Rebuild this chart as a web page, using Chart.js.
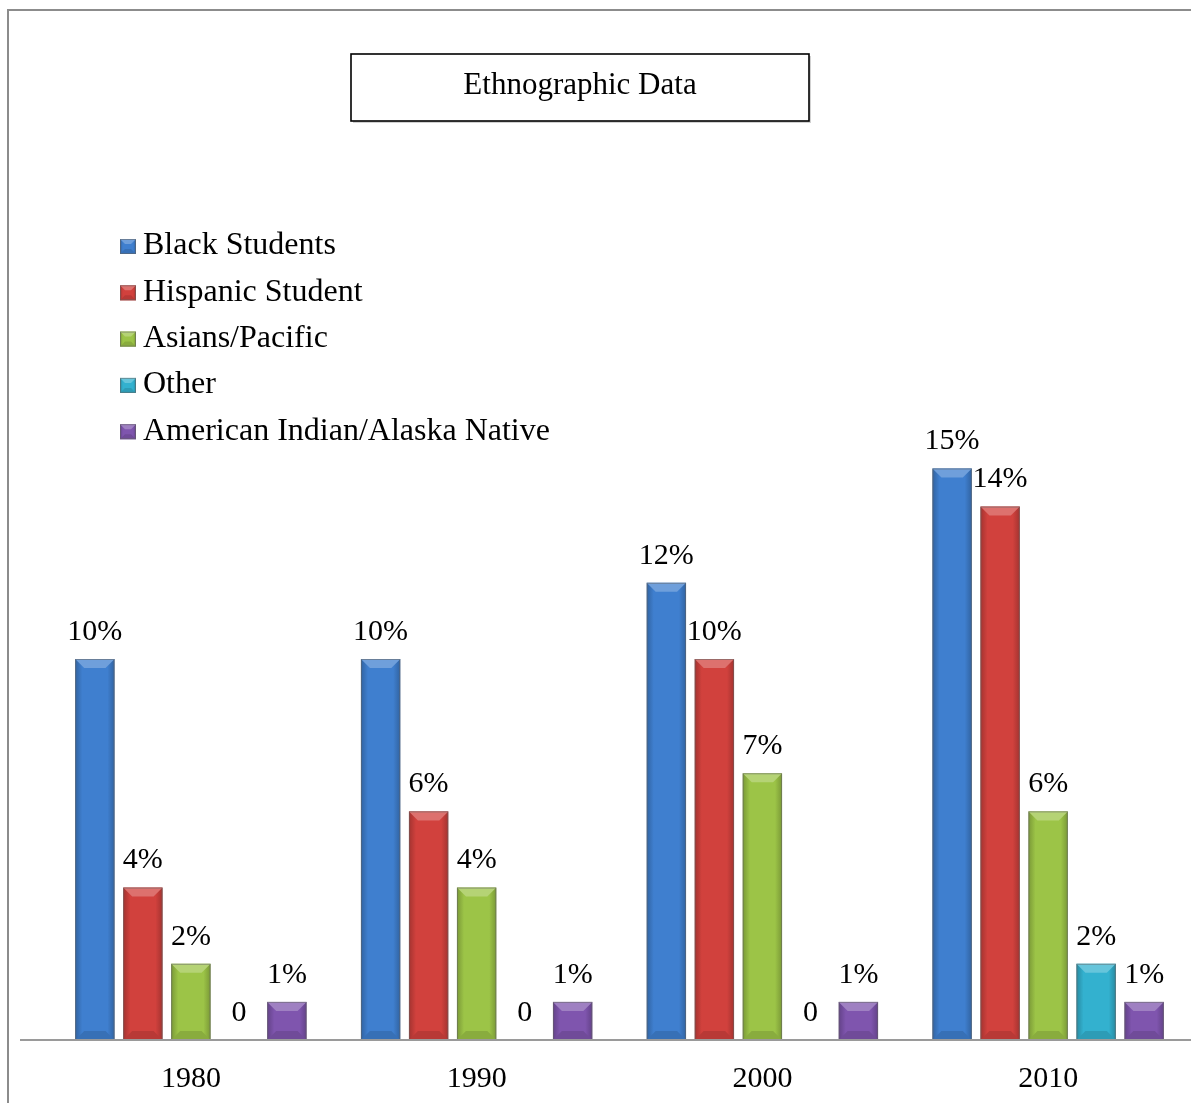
<!DOCTYPE html>
<html>
<head>
<meta charset="utf-8">
<script src="https://cdn.jsdelivr.net/npm/chart.js@4.4.0/dist/chart.umd.min.js"></script>
<style>
  html, body { margin: 0; padding: 0; background: #fff; }
  #myChart { display: block; }
</style>
</head>
<body>
<canvas id="myChart" width="1191" height="1103" style="width:1191px;height:1103px"></canvas>
<script>
// chart data
const years = ['1980', '1990', '2000', '2010'];
const seriesNames = ['Black Students', 'Hispanic Student', 'Asians/Pacific', 'Other', 'American Indian/Alaska Native'];
const blackStudents = [10, 10, 12, 15];
const hispanicStudent = [4, 6, 10, 14];
const asiansPacific = [2, 4, 7, 6];
const otherStudents = [0, 0, 0, 2];
const americanIndian = [1, 1, 1, 1];
const chartTitle = 'Ethnographic Data';

const serif = '"Liberation Serif", "Times New Roman", serif';
const colores = ['#3f7fcf', '#d1413d', '#9cc447', '#33b1cf', '#7f55ae'];
const valores = [blackStudents, hispanicStudent, asiansPacific, otherStudents, americanIndian];

const datasets = seriesNames.map((nombre, i) => ({
    label: nombre,
    data: valores[i],
    backgroundColor: colores[i],
    borderColor: 'rgba(110,110,110,0.7)',
    borderWidth: 1,
    categoryPercentage: 0.84,
    barPercentage: 0.82,
}));

// marco exterior, caja del titulo y leyenda
const decorPlugin = {
    id: 'decor',
    beforeDraw(chart) {
        const ctx = chart.ctx;
        ctx.save();
        ctx.fillStyle = '#fff';
        ctx.fillRect(0, 0, chart.width, chart.height);
        ctx.strokeStyle = '#8c8c8c';
        ctx.lineWidth = 2;
        ctx.beginPath();
        ctx.moveTo(8, chart.height);
        ctx.lineTo(8, 10);
        ctx.lineTo(chart.width, 10);
        ctx.stroke();

        // titulo
        ctx.fillStyle = 'rgba(0,0,0,0.18)';
        ctx.fillRect(353, 56, 458, 67);
        ctx.fillStyle = '#fff';
        ctx.fillRect(351, 54, 458, 67);
        ctx.strokeStyle = '#000';
        ctx.lineWidth = 1.6;
        ctx.strokeRect(351, 54, 458, 67);
        ctx.fillStyle = '#000';
        ctx.font = '31px ' + serif;
        ctx.textAlign = 'center';
        ctx.textBaseline = 'middle';
        ctx.fillText(chartTitle, 580, 86);

        // leyenda
        ctx.font = '32px ' + serif;
        ctx.textAlign = 'left';
        chart.data.datasets.forEach((ds, i) => {
            const cy = 246 + i * 46.3;
            drawBevelBox(ctx, 120, cy - 7, 16, 15, ds.backgroundColor, 5);
            ctx.fillStyle = '#000';
            ctx.fillText(ds.label, 143, cy);
        });
        ctx.restore();
    },
    afterDatasetsDraw(chart) {
        const ctx = chart.ctx;
        const yScale = chart.scales.y;
        const base = yScale.getPixelForValue(0);
        ctx.save();
        // efecto biselado en cada barra
        chart.data.datasets.forEach((ds, i) => {
            chart.getDatasetMeta(i).data.forEach((el) => {
                const p = el.getProps(['x', 'y', 'base', 'width'], true);
                const h = p.base - p.y;
                if (h <= 0.5) return;
                drawBevelBox(ctx, p.x - p.width / 2, p.y, p.width, h, ds.backgroundColor, 9);
            });
        });
        // linea del eje x
        ctx.strokeStyle = '#9a9a9a';
        ctx.lineWidth = 2;
        ctx.beginPath();
        ctx.moveTo(20, base);
        ctx.lineTo(chart.width, base);
        ctx.stroke();

        // etiquetas de valores
        ctx.fillStyle = '#000';
        ctx.font = '30px ' + serif;
        ctx.textAlign = 'center';
        ctx.textBaseline = 'middle';
        chart.data.datasets.forEach((ds, i) => {
            chart.getDatasetMeta(i).data.forEach((el, j) => {
                const v = ds.data[j];
                const txt = v === 0 ? '0' : v + '%';
                ctx.fillText(txt, el.x, el.y - 27);
            });
        });
        ctx.restore();
    }
};

function shade(hex, amt) {
    const n = parseInt(hex.slice(1), 16);
    let r = (n >> 16) & 255, g = (n >> 8) & 255, b = n & 255;
    if (amt >= 0) {
        r = r + (255 - r) * amt; g = g + (255 - g) * amt; b = b + (255 - b) * amt;
    } else {
        r = r * (1 + amt); g = g * (1 + amt); b = b * (1 + amt);
    }
    return `rgb(${Math.round(r)},${Math.round(g)},${Math.round(b)})`;
}

function drawBevelBox(ctx, x, y, w, h, color, bev) {
    const b = Math.min(bev, h / 2, w / 2);
    ctx.save();
    // cuerpo
    const grad = ctx.createLinearGradient(x, 0, x + w, 0);
    grad.addColorStop(0, shade(color, -0.22));
    grad.addColorStop(0.18, color);
    grad.addColorStop(0.82, color);
    grad.addColorStop(1, shade(color, -0.22));
    ctx.fillStyle = grad;
    ctx.fillRect(x, y, w, h);
    // bisel superior
    ctx.fillStyle = shade(color, 0.25);
    ctx.beginPath();
    ctx.moveTo(x, y);
    ctx.lineTo(x + w, y);
    ctx.lineTo(x + w - b, y + b);
    ctx.lineTo(x + b, y + b);
    ctx.closePath();
    ctx.fill();
    // bisel inferior
    ctx.fillStyle = shade(color, -0.12);
    ctx.beginPath();
    ctx.moveTo(x, y + h);
    ctx.lineTo(x + w, y + h);
    ctx.lineTo(x + w - b, y + h - b);
    ctx.lineTo(x + b, y + h - b);
    ctx.closePath();
    ctx.fill();
    // borde
    ctx.strokeStyle = 'rgba(100,100,100,0.55)';
    ctx.lineWidth = 1;
    ctx.strokeRect(x + 0.5, y + 0.5, w - 1, h - 1);
    ctx.restore();
}

function createChart() {
    const ctx = document.getElementById('myChart');
    new Chart(ctx, {
        type: 'bar',
        data: { labels: years, datasets: datasets },
        options: {
            responsive: false,
            animation: false,
            devicePixelRatio: 1,
            layout: { padding: { left: 48, right: 0, top: 430.4, bottom: 9 } },
            plugins: {
                legend: { display: false },
                title: { display: false },
                tooltip: { enabled: false }
            },
            scales: {
                x: {
                    grid: { display: false, drawTicks: false },
                    border: { display: false },
                    ticks: { color: '#000', font: { family: serif, size: 30 }, padding: 21 },
                    afterFit(scale) { scale.height = 54; }
                },
                y: {
                    display: false,
                    min: 0,
                    max: 16
                }
            }
        },
        plugins: [decorPlugin]
    });
}

createChart();
</script>
</body>
</html>
